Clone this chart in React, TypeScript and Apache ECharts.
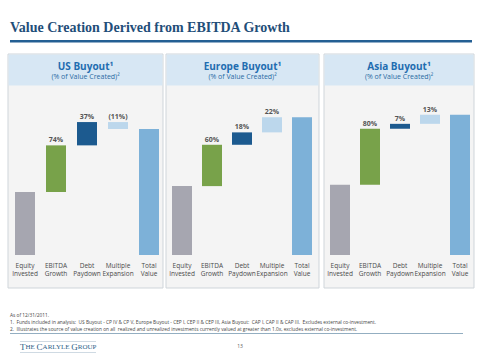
import React, { useEffect, useRef } from "react";
import * as echarts from "echarts";

const categories = ["Equity\nInvested", "EBITDA\nGrowth", "Debt\nPaydown", "Multiple\nExpansion", "Total\nValue"];
const panelTitles = ["US Buyout¹", "Europe Buyout¹", "Asia Buyout¹"];
const panelSubtitle = "(% of Value Created)²";
// Equity invested indexed at 100, value created = 100
const usSteps = [100, 74, 37, -11, 200];
const europeSteps = [100, 60, 18, 22, 200];
const asiaSteps = [100, 80, 7, 13, 200];
const usLabels = ["", "74%", "37%", "(11%)", ""];
const europeLabels = ["", "60%", "18%", "22%", ""];
const asiaLabels = ["", "80%", "7%", "13%", ""];
const footnotes = [
  "As of 12/31/2011.",
  "1.  Funds included in analysis:  US Buyout - CP IV & CP V, Europe Buyout - CEP I, CEP II & CEP III, Asia Buyout:  CAP I, CAP II & CAP III.  Excludes external co-investment.",
  "2.  Illustrates the source of value creation on all  realized and unrealized investments currently valued at greater than 1.0x, excludes external co-investment.",
];

const barColors = ["#a6a6b0", "#78a24a", "#1c5a8f", "#bcd7ec", "#7db1d8"];

const panels = [
  { x: 8, w: 155, gl: 9.5, gw: 155, ymax: 246 },
  { x: 166, w: 153, gl: 167, gw: 150, ymax: 225 },
  { x: 324, w: 150, gl: 325, gw: 150, ymax: 221 },
];
const allSteps = [usSteps, europeSteps, asiaSteps];
const allLabels = [usLabels, europeLabels, asiaLabels];

function waterfall(steps: number[]) {
  const base: number[] = [];
  const vis: number[] = [];
  let run = 0;
  steps.forEach((v, i) => {
    if (i === 0 || i === steps.length - 1) {
      base.push(0);
      vis.push(v);
      run = i === 0 ? v : run;
    } else if (v >= 0) {
      base.push(run);
      vis.push(v);
      run += v;
    } else {
      run += v;
      base.push(run);
      vis.push(-v);
    }
  });
  return { base, vis };
}

export default function App() {
  const ref = useRef<HTMLDivElement>(null);
  useEffect(() => {
    if (!ref.current) return;
    const chart = echarts.init(ref.current, undefined, { renderer: "svg" });
    const grids: any[] = [];
    const xAxes: any[] = [];
    const yAxes: any[] = [];
    const series: any[] = [];
    const graphics: any[] = [];

    graphics.push({
      type: "text",
      left: 10,
      top: 20,
      style: { text: "Value Creation Derived from EBITDA Growth", fontFamily: "Liberation Serif", fontWeight: "bold", fontSize: 14, fill: "#1f4e79" },
    });
    graphics.push({ type: "rect", shape: { x: 10, y: 40, width: 462, height: 2.5 }, style: { fill: "#245f93" } });

    panels.forEach((p, i) => {
      graphics.push({ type: "rect", z: -10, shape: { x: p.x, y: 54, width: p.w, height: 234 }, style: { fill: "#f4f4f4", stroke: "#cfd5da", lineWidth: 1 } });
      graphics.push({ type: "rect", z: -9, shape: { x: p.x + 0.5, y: 54.5, width: p.w - 1, height: 31 }, style: { fill: "#d7e7f4" } });
      graphics.push({
        type: "text", z: 5, x: p.x + p.w / 2, y: 66,
        style: { text: panelTitles[i], fontFamily: "Open Sans", fontWeight: "bold", fontSize: 10, fill: "#1f6db0", align: "center", verticalAlign: "middle" },
      });
      graphics.push({
        type: "text", z: 5, x: p.x + p.w / 2, y: 76,
        style: { text: panelSubtitle, fontFamily: "Open Sans", fontSize: 7, fill: "#2a6aa3", align: "center", verticalAlign: "middle" },
      });

      const { base, vis } = waterfall(allSteps[i]);
      const labels = allLabels[i];
      grids.push({ left: p.gl, width: p.gw, top: 100, height: 155 });
      xAxes.push({
        type: "category", gridIndex: i, data: categories,
        axisLine: { show: false }, axisTick: { show: false },
        axisLabel: { interval: 0, fontFamily: "Open Sans", fontSize: 6.5, lineHeight: 8, color: "#4a4a4a", margin: 6 },
      });
      yAxes.push({ type: "value", gridIndex: i, min: 0, max: p.ymax, show: false, splitLine: { show: false } });
      series.push({
        type: "bar", xAxisIndex: i, yAxisIndex: i, stack: "s" + i, data: base, barWidth: 20,
        itemStyle: { color: "transparent" }, silent: true,
      });
      series.push({
        type: "bar", xAxisIndex: i, yAxisIndex: i, stack: "s" + i, barWidth: 20,
        data: vis.map((v, j) => ({ value: v, itemStyle: { color: barColors[j] } })),
        label: {
          show: true, position: "top", distance: 2,
          formatter: (prm: any) => labels[prm.dataIndex],
          fontFamily: "Open Sans", fontSize: 7, fontWeight: "bold", color: "#555",
        },
      });
    });

    footnotes.forEach((t, k) => {
      graphics.push({
        type: "text", x: 10, y: 315 + k * 6.8,
        style: { text: t, fontFamily: "Open Sans", fontSize: 4.8, fill: "#444", verticalAlign: "middle" },
      });
    });
    graphics.push({ type: "rect", shape: { x: 10, y: 333, width: 453, height: 0.8 }, style: { fill: "#6f93ad" } });
    graphics.push({ type: "rect", shape: { x: 20, y: 341.5, width: 76, height: 0.6 }, style: { fill: "#9fb6c8" } });
    graphics.push({ type: "rect", shape: { x: 20, y: 352.5, width: 76, height: 0.6 }, style: { fill: "#9fb6c8" } });
    graphics.push({
      type: "text", x: 20, y: 347,
      style: {
        text: "{b|T}{s|HE }{b|C}{s|ARLYLE }{b|G}{s|ROUP}",
        verticalAlign: "middle",
        rich: {
          b: { fontFamily: "Liberation Serif", fontSize: 9, fill: "#2e5f88" },
          s: { fontFamily: "Liberation Serif", fontSize: 7, fill: "#2e5f88" },
        },
      },
    });
    graphics.push({
      type: "text", x: 240, y: 346,
      style: { text: "13", fontFamily: "Open Sans", fontSize: 5, fill: "#555", align: "center", verticalAlign: "middle" },
    });

    chart.setOption({
      animation: false,
      backgroundColor: "#ffffff",
      grid: grids,
      xAxis: xAxes,
      yAxis: yAxes,
      series,
      graphic: graphics,
    });
    return () => chart.dispose();
  }, []);
  return <div ref={ref} style={{ width: 480, height: 359, position: "absolute", left: 0, top: 0 }} />;
}
